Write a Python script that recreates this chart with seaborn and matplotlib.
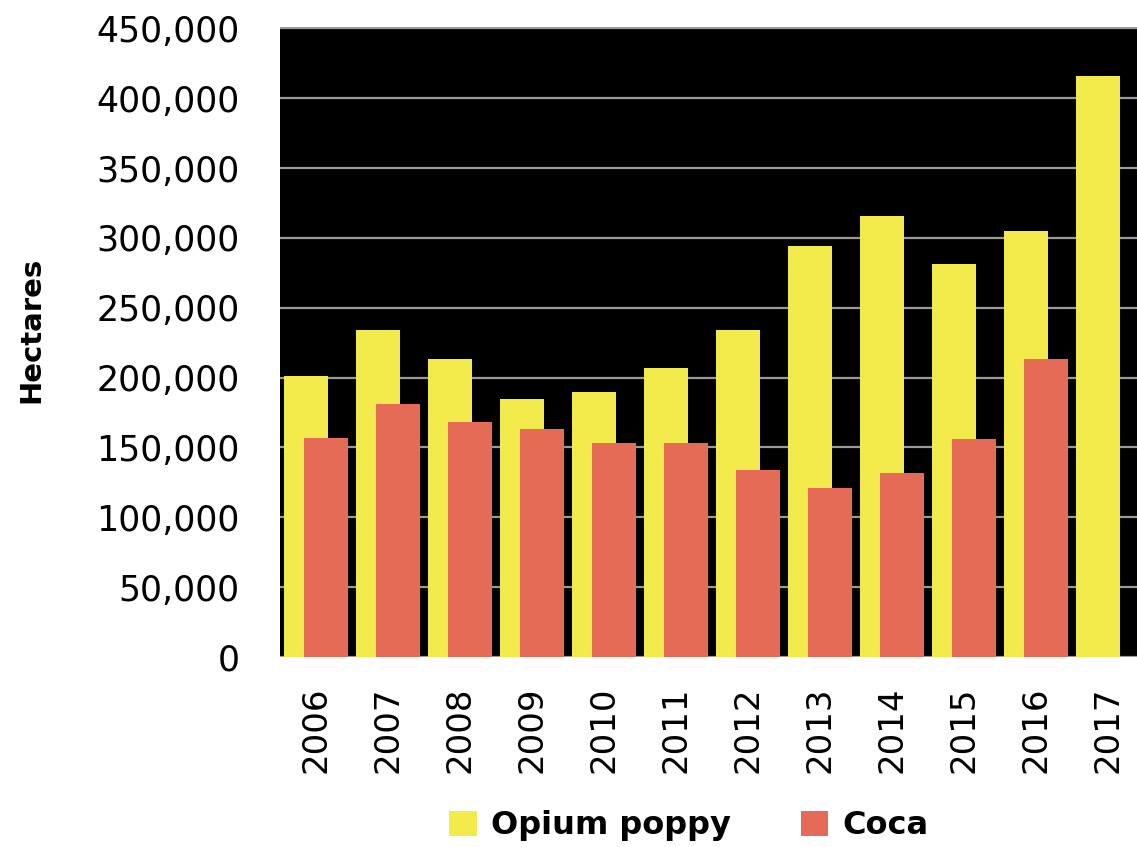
import matplotlib
matplotlib.use('Agg')
import matplotlib.pyplot as plt
import matplotlib.ticker as mticker
import seaborn as sns
import pandas as pd

# data
years = ['2006', '2007', '2008', '2009', '2010', '2011',
         '2012', '2013', '2014', '2015', '2016', '2017']
opium = [201000, 234000, 213000, 185000, 190000, 207000,
         234000, 294000, 316000, 281000, 305000, 416000]
coca_years = years[:-1]
coca = [157000, 181000, 168000, 163000, 153500, 153500,
        134000, 121000, 132000, 156000, 213500]

opium_color = '#F2EB4B'
coca_color = '#E56B57'

sns.set_style('white')
plt.rcParams['font.family'] = ['DejaVu Sans']
plt.rcParams['text.color'] = 'black'
plt.rcParams['axes.labelcolor'] = 'black'

fig = plt.figure(figsize=(11.37, 8.47), dpi=100)
ax = fig.add_axes([280 / 1137, 190 / 847, 864 / 1137, 630 / 847])

df_op = pd.DataFrame({'year': years, 'hectares': opium})
df_co = pd.DataFrame({'year': coca_years, 'hectares': coca})

sns.barplot(data=df_op, x='year', y='hectares', order=years,
            color=opium_color, width=0.6, saturation=1, linewidth=0,
            edgecolor='none', ax=ax)
sns.barplot(data=df_co, x='year', y='hectares', order=years,
            color=coca_color, width=0.62, saturation=1, linewidth=0,
            edgecolor='none', ax=ax)

# overlapping bars, like the excel chart
for bar in ax.containers[0]:
    bar.set_x(bar.get_x() - 0.14)
for bar in ax.containers[1]:
    bar.set_x(bar.get_x() + 0.14)

ax.set_facecolor('black')
ax.set_xlim(-0.5, 11.5)
ax.set_ylim(0, 451000)
ax.yaxis.set_major_locator(mticker.MultipleLocator(50000))
ax.yaxis.set_major_formatter(mticker.StrMethodFormatter('{x:,.0f}'))
ax.grid(axis='y', color='#9a9a9a', linewidth=1.6)
ax.set_axisbelow(True)
for s in ax.spines.values():
    s.set_visible(False)

ax.tick_params(axis='y', length=0, pad=29, labelsize=25, labelcolor='black')
ax.tick_params(axis='x', length=0, pad=21, labelsize=24.5, labelcolor='black',
               rotation=90)
ax.set_xlabel('')
ax.set_ylabel('Hectares', fontsize=21, fontweight='bold', color='black')
ax.yaxis.set_label_coords(-0.272, 0.52)

fig.legend(ax.containers, ['Opium poppy', 'Coca'], loc='center',
           bbox_to_anchor=(0.606, 0.025), ncol=2, frameon=False,
           prop={'size': 23, 'weight': 'bold'}, handlelength=0.85,
           handleheight=0.85, handletextpad=0.45, columnspacing=2.2,
           labelcolor='black')

plt.savefig('out.png', dpi=100)
plt.close()
